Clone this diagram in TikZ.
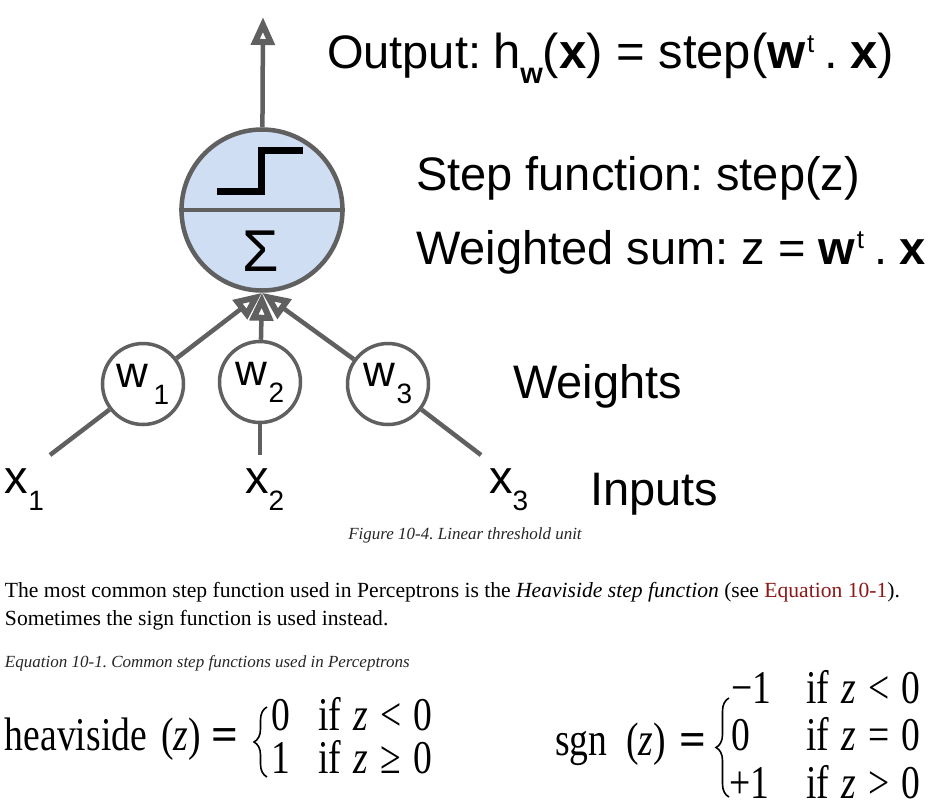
\documentclass[tikz,border=0pt]{standalone}
\usepackage{fontspec}
\setmainfont{Liberation Serif}
\newfontfamily\arialf{Liberation Sans}
\newfontfamily\eqf[FakeStretch=0.8]{Liberation Serif}
\usetikzlibrary{arrows.meta,decorations.pathreplacing}
\definecolor{edgegray}{RGB}{96,96,96}
\definecolor{cellblue}{RGB}{207,222,242}
\definecolor{linkred}{RGB}{140,24,24}
\newcommand{\supt}{\kern1.5pt\raisebox{16pt}{\fontsize{26}{26}\selectfont\mdseries t}}
\newcommand{\dotx}{\hspace{10pt}.\hspace{12pt}\textbf{x}}
\newcommand{\subd}[1]{\raisebox{-17pt}{\fontsize{28}{28}\selectfont #1}}
\frenchspacing
\begin{document}
\begin{tikzpicture}[x=1pt,y=-1pt,
  txt/.style={inner sep=0pt, outer sep=0pt, anchor=base west},
  big/.style={txt, font=\arialf\fontsize{47}{56}\selectfont},
  eq/.style={txt, font=\eqf\fontsize{47}{47}\selectfont},
  eqrel/.style={txt, font=\bfseries\fontsize{47}{47}\selectfont},
  wcell/.style={circle, draw=edgegray, fill=white, line width=3.5pt, minimum size=81pt, inner sep=0pt, font=\arialf\fontsize{44}{44}\selectfont},
  conn/.style={draw=edgegray, line width=4.5pt},
  tip/.style={-{Triangle[open,length=28pt,width=23pt,line width=6pt]}},
  brc/.style={line width=1.6pt, decorate, decoration={brace, amplitude=13pt}}
]
\useasboundingbox (0,0) rectangle (928,807);
\fill[white] (0,0) rectangle (928,807);
\clip (0,0) rectangle (928,807);

% ---------- neuron ----------
\node[circle, draw=edgegray, fill=cellblue, line width=4.5pt, minimum size=161pt, inner sep=0pt] (neuron) at (262,210) {};
\draw[edgegray, line width=4pt] (neuron.west) -- (neuron.east);
\draw[black, line width=7pt, line join=miter] (217,191) -- (261,191) -- (261,150) -- (303,150);
\node[inner sep=0pt, font=\arialf\fontsize{59}{59}\selectfont] (sigma) at (261,251) {Σ};

% ---------- weights ----------
\node[wcell] (w1) at (143,384) {w\kern5pt\subd{1}};
\node[wcell] (w2) at (260,382) {w\kern1pt\subd{2}};
\node[wcell] (w3) at (388,384) {w\kern1pt\subd{3}};

\coordinate (i1) at (50,455);
\coordinate (i2) at (260,455);
\coordinate (i3) at (481,455);
\coordinate (out) at (263,17);

\draw[conn] (i1) -- (w1);
\draw[conn] (i2) -- (w2);
\draw[conn] (i3) -- (w3);
\draw[conn, tip] (w1) -- (neuron.south);
\draw[conn, tip] (w3) -- (neuron.south);
\draw[conn, tip] (w2) -- (neuron.south);
\draw[conn, tip] (neuron) -- (out);

% ---------- labels ----------
\node[big] (x1) at (5,493) {x\subd{1}};
\node[big] (x2) at (245,493) {x\subd{2}};
\node[big] (x3) at (489,493) {x\subd{3}};

\node[big] (outlbl) at (327,68) {Output:};
\node[big, font=\arialf\fontsize{49}{56}\selectfont] (outf) at (493,68) {h\raisebox{-15pt}{\fontsize{29}{29}\selectfont\bfseries w}(\textbf{x}) = step(\textbf{w}\supt\dotx)};
\node[big] (steplbl) at (416,190) {Step function: step(z)};
\node[big] (wsum) at (416,264) {Weighted sum: z = \textbf{w}\supt\dotx};
\node[big] (wlbl) at (513,398) {Weights};
\node[big] (inlbl) at (590,505) {Inputs};

% ---------- text below ----------
\node[inner sep=0pt, anchor=base, font=\itshape\fontsize{17}{20}\selectfont, text=black!85] (cap) at (465,539) {Figure 10-4. Linear threshold unit};
\node[txt, font=\fontsize{21.6}{25}\selectfont] (p1) at (5,597) {The most common step function used in Perceptrons is the \textit{Heaviside step function} (see \textcolor{linkred}{Equation 10-1}).};
\node[txt, font=\fontsize{21.6}{25}\selectfont] (p2) at (5,625) {Sometimes the sign function is used instead.};
\node[txt, font=\itshape\fontsize{17}{20}\selectfont, text=black!85] (eqcap) at (5,667) {Equation 10-1. Common step functions used in Perceptrons};

% heaviside
\node[eq] (hv) at (5,750) {heaviside};
\node[eq] (hvz) at (161,750) {(\textit{z})};
\node[eqrel] (hveq) at (211,750) {=};
\draw[brc] (267,777) -- (267,707);
\node[eq] (h1a) at (271,730) {0};
\node[eq] (h1b) at (318,730) {if\hspace{13pt}\textit{z}\hspace{12pt}<\hspace{12pt}0};
\node[eq] (h2a) at (271,773) {1};
\node[eq] (h2b) at (318,773) {if\hspace{13pt}\textit{z}\hspace{12pt}≥\hspace{12pt}0};

% sgn
\node[eq] (sg) at (555,755) {sgn};
\node[eq] (sgz) at (626,755) {(\textit{z})};
\node[eqrel] (sgeq) at (679,755) {=};
\draw[brc] (729,797) -- (729,698);
\node[eq] (s1a) at (731,703) {−1};
\node[eq] (s1b) at (806,703) {if\hspace{13pt}\textit{z}\hspace{12pt}<\hspace{12pt}0};
\node[eq] (s2a) at (731,750) {0};
\node[eq] (s2b) at (806,750) {if\hspace{13pt}\textit{z}\hspace{12pt}=\hspace{12pt}0};
\node[eq] (s3a) at (729,798) {+1};
\node[eq] (s3b) at (806,798) {if\hspace{13pt}\textit{z}\hspace{12pt}>\hspace{12pt}0};
\end{tikzpicture}
\end{document}
